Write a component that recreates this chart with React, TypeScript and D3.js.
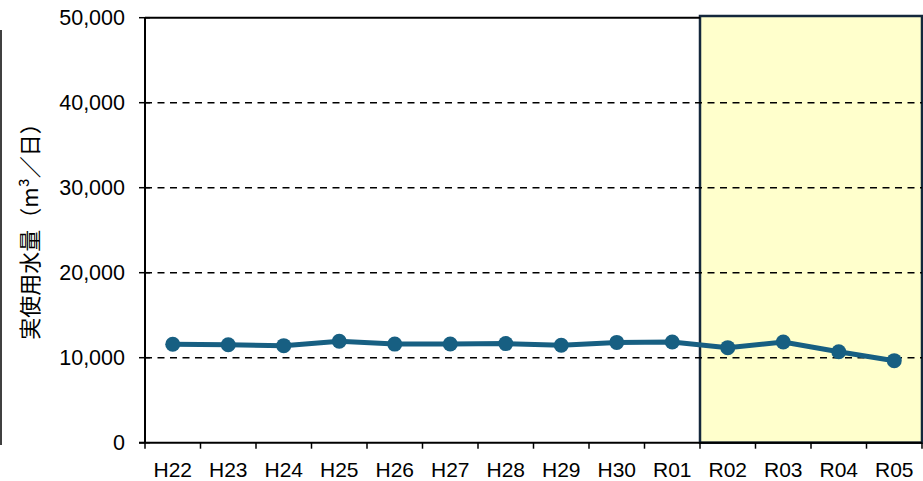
import React from "react";
import * as d3 from "d3";

const categories = ["H22","H23","H24","H25","H26","H27","H28","H29","H30","R01","R02","R03","R04","R05"];
const values = [11580, 11530, 11420, 11930, 11600, 11620, 11660, 11470, 11800, 11840, 11180, 11850, 10700, 9650];
const yTicks = [0, 10000, 20000, 30000, 40000, 50000];
const highlightFrom = "R02";

const W = 923, H = 481;
const left = 145, right = 922, top = 17.7, bottom = 442.7;

export default function App() {
  const x = d3.scaleBand<string>().domain(categories).range([left, right]).padding(0);
  const y = d3.scaleLinear().domain([0, 50000]).range([bottom, top]);
  const cx = (c: string) => (x(c) as number) + x.bandwidth() / 2;
  const line = d3.line<number>().x((_, i) => cx(categories[i])).y(d => y(d));
  const fmt = d3.format(",");
  const hx = x(highlightFrom) as number;
  const bounds = categories.map(c => x(c) as number).concat([right]);
  const font = "'Liberation Sans', Arial, sans-serif";
  return (
    <svg width={W} height={H} style={{ position: "absolute", left: 0, top: 0, background: "#fff" }}>
      <line x1={1} x2={1} y1={30} y2={445} stroke="#000" strokeWidth={1.5} />
      <rect x={hx} y={16} width={right - hx} height={bottom - 16} fill="#ffffcc" stroke="#14283c" strokeWidth={2.5} />
      {yTicks.filter(t => t > 0 && t < 50000).map(t => (
        <line key={t} x1={left} x2={right} y1={y(t)} y2={y(t)} stroke="#000" strokeWidth={1.6} strokeDasharray="7,5.5" />
      ))}
      <line x1={left} x2={hx} y1={y(50000)} y2={y(50000)} stroke="#000" strokeWidth={2} />
      <line x1={left} x2={left} y1={y(50000)} y2={bottom} stroke="#000" strokeWidth={2} />
      <line x1={139} x2={right} y1={bottom} y2={bottom} stroke="#000" strokeWidth={2} />
      {yTicks.map(t => (
        <g key={t}>
          <line x1={139} x2={150} y1={y(t)} y2={y(t)} stroke="#000" strokeWidth={1.5} />
          <text x={125} y={y(t)} dy="0.36em" textAnchor="end" fontFamily={font} fontSize={21.5} fill="#000">{fmt(t)}</text>
        </g>
      ))}
      {bounds.map((b, i) => (
        <line key={i} x1={b} x2={b} y1={bottom} y2={bottom + 6} stroke="#000" strokeWidth={1.5} />
      ))}
      {categories.map(c => (
        <text key={c} x={cx(c)} y={477} textAnchor="middle" fontFamily={font} fontSize={21} fill="#000">{c}</text>
      ))}
      <path d={line(values) || ""} fill="none" stroke="#175f82" strokeWidth={5} />
      {values.map((v, i) => (
        <circle key={i} cx={cx(categories[i])} cy={y(v)} r={7.5} fill="#175f82" />
      ))}
      <text transform="translate(38,226) rotate(-90)" textAnchor="middle" fontFamily="'Noto Sans CJK JP', sans-serif" fontSize={22} fill="#000">実使用水量（m³／日）</text>
    </svg>
  );
}
